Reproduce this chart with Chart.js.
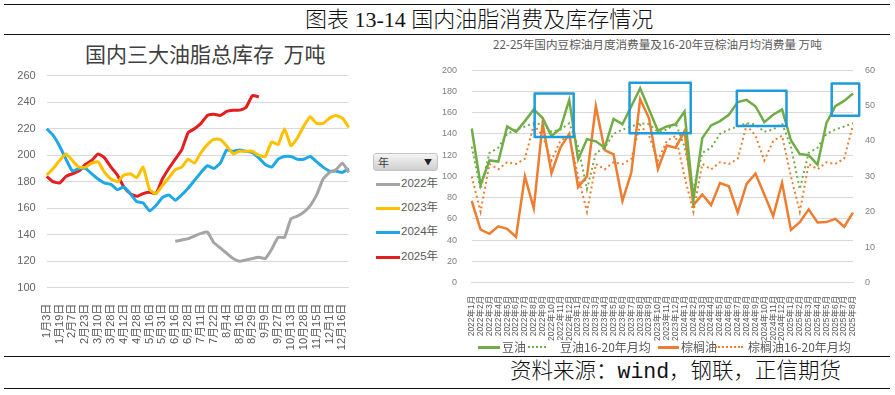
<!DOCTYPE html>
<html><head><meta charset="utf-8">
<script src="https://cdn.jsdelivr.net/npm/chart.js@4.4.1/dist/chart.umd.min.js"></script>
<style>
html,body{margin:0;padding:0;}
body{width:895px;height:395px;background:#fff;position:relative;overflow:hidden;font-family:"Noto Sans CJK SC",sans-serif;}
.hl{position:absolute;left:4px;width:886px;height:0;border-top:1.5px solid #111;}
.abs{position:absolute;white-space:pre;}
#cL{position:absolute;left:0;top:50px;}
#cR{position:absolute;left:440px;top:50px;}
.lg{position:absolute;height:0;}
.lt{position:absolute;font-size:12px;color:#595959;line-height:14px;white-space:pre;}
</style></head>
<body>
<div class="hl" style="top:4px"></div>
<div class="abs" style="left:305px;top:6px;font-size:22px;line-height:28px;color:#111;font-weight:300;font-family:'Liberation Serif','Noto Sans CJK SC',serif;">图表 13-14 国内油脂消费及库存情况</div>
<div class="hl" style="top:34px"></div>

<div class="abs" style="left:85px;top:39px;font-size:21px;line-height:28px;color:#404040;">国内三大油脂总库存  万吨</div>
<div class="abs" style="left:493px;top:36px;font-size:11.6px;line-height:16px;color:#595959;">22-25年国内豆棕油月度消费量及16-20年豆棕油月均消费量 万吨</div>

<canvas id="cL" width="370" height="305"></canvas>
<canvas id="cR" width="455" height="300"></canvas>

<!-- left legend -->
<div class="abs" style="left:373px;top:153px;width:63px;height:16px;border:1px solid #c4c4c4;border-radius:3px;background:linear-gradient(#f4f4f4,#cfcfcf);"></div>
<div class="abs" style="left:378px;top:154px;font-size:11px;line-height:16px;color:#404040;">年</div>
<div class="abs" style="left:424px;top:155px;font-size:8px;line-height:14px;color:#222;">▼</div>
<div id="legL"></div>

<!-- right legend -->
<div class="lg" style="left:478px;top:346px;width:22px;border-top:3px solid #70AD47;"></div>
<div class="lt" style="left:502px;top:340px;">豆油</div>
<div class="lg" style="left:528px;top:346px;width:18px;border-top:2px dotted #70AD47;"></div>
<div class="lt" style="left:560px;top:340px;">豆油16-20年月均</div>
<div class="lg" style="left:658px;top:346px;width:21px;border-top:3px solid #ED7D31;"></div>
<div class="lt" style="left:681px;top:340px;">棕榈油</div>
<div class="lg" style="left:715px;top:346px;width:28px;border-top:2px dotted #ED7D31;"></div>
<div class="lt" style="left:748px;top:340px;">棕榈油16-20年月均</div>

<div class="hl" style="top:356px"></div>
<div class="abs" style="left:510px;top:359px;font-size:21.5px;line-height:26px;color:#111;font-weight:300;font-family:'Liberation Mono','Noto Sans CJK SC',monospace;">资料来源：wind，钢联，正信期货</div>
<div class="hl" style="top:388px"></div>

<script>
// ---------- left chart data (万吨) ----------
const weekTickLabels = ['1月3日','1月19日','2月7日','2月23日','3月10日','3月28日','4月12日','4月28日','5月16日','5月31日','6月16日','6月28日','7月11日','7月22日','8月4日','8月16日','8月29日','9月9日','9月27日','10月13日','10月28日','11月15日','12月1日','12月16日'];
const stockYears = ['2022年','2023年','2024年','2025年'];
const stock2022 = [null,null,null,null,null,null,null,null,null,null,null,null,null,null,null,null,null,null,null,null,
  135,136,137,139,141,142,134,130,126,122,120,121,122,123,122,129,138,138,152,154,157,162,170,182,187,189,194,187];
const stock2023 = [185,190,196,201,196,191,191,194,195,187,182,180,185,186,183,191,174,171,177,183,189,191,197,194,202,208,212,212,207,201,203,203,203,200,199,210,208,220,207,213,222,229,224,224,228,230,228,221];
const stock2024 = [220,215,207,197,188,190,190,186,182,179,178,174,176,171,165,164,158,162,168,170,166,170,175,181,187,192,190,194,204,203,204,203,202,198,193,191,197,199,199,197,197,199,195,191,188,188,187,190];
const stock2025 = [184,180,179,184,186,188,193,196,201,198,191,185,176,171,169,171,172,171,182,190,197,204,217,220,224,230,231,230,233,234,234,236,245,244];
const stockTicks = [100,120,140,160,180,200,220,240,260];

// ---------- right chart data ----------
const months = ['2022年1月','2022年2月','2022年3月','2022年4月','2022年5月','2022年6月','2022年7月','2022年8月','2022年9月','2022年10月','2022年11月','2022年12月',
 '2023年1月','2023年2月','2023年3月','2023年4月','2023年5月','2023年6月','2023年7月','2023年8月','2023年9月','2023年10月','2023年11月','2023年12月',
 '2024年1月','2024年2月','2024年3月','2024年4月','2024年5月','2024年6月','2024年7月','2024年8月','2024年9月','2024年10月','2024年11月','2024年12月',
 '2025年1月','2025年2月','2025年3月','2025年4月','2025年5月','2025年6月','2025年7月','2025年8月'];
const soyCons = [145,92,115,114,147,142,152,163,155,138,145,172, 116,135,133,127,154,149,166,183,163,143,147,149, 161,78,136,148,152,158,170,172,166,151,158,163, 134,121,120,111,150,166,171,178];
const soyAvg  = [128,88,122,127,140,144,147,150,149,142,144,150, 128,88,122,127,140,144,147,150,149,142,144,150, 128,88,122,127,140,144,147,150,149,142,144,150, 128,88,122,127,140,144,147,150];
const palmCons = [23.1,15,13.8,15.9,15.2,12.9,30,21,45,30.9,38.1,42, 27,30,49.8,37.4,36.2,23.1,31.1,51.8,46.4,32.1,38.7,38.1, 42.8,21.9,24.9,21.9,28.1,27.2,19.8,27.9,30.8,24.9,18.8,28.2, 14.9,17.1,20.7,17,17.1,18,15.8,19.8];
const palmAvg  = [30,20,33.5,32,34,33.5,35,44.5,41.5,34.5,40,41.5, 30,20,33.5,32,34,33.5,35,44.5,41.5,34.5,40,41.5, 30,20,33.5,32,34,33.5,35,44.5,41.5,34.5,40,41.5, 30,20,33.5,32,34,33.5,35,44.5];
const leftTicks = [0,20,40,60,80,100,120,140,160,180,200];
const rightTicks = [0,10,20,30,40,50,60];
// highlight boxes in data units: [fromIndex, toIndex, topValue, bottomValue] (left axis)
const highlightBoxes = [[7.1,11.5,178,137],[17.8,24.7,188,140.6],[29.9,35.5,180.5,147.5],[40.6,43.7,187.5,157]];

const weekCats = weekTickLabels.flatMap(l => [l, '']);
const CJK = '"Noto Sans CJK SC"';
const NARROW = '"Liberation Sans Narrow","Liberation Sans",' + CJK;

// left legend
const yearColors = ['#A5A5A5','#FFC000','#1FA8E6','#E41E1E'];
const legTops = [184,208,232,257];
const legL = document.getElementById('legL');
stockYears.forEach((y,i)=>{
  legL.insertAdjacentHTML('beforeend',
    `<div class="lg" style="left:376px;top:${legTops[i]-1.5}px;width:24px;border-top:3px solid ${yearColors[i]};"></div>`+
    `<div class="lt" style="left:401px;top:${legTops[i]-8}px;font-size:11.5px;font-family:${NARROW.replace(/"/g,"'")};">${y}</div>`);
});

new Chart(document.getElementById('cL'), {
  type: 'line',
  data: {
    labels: weekCats,
    datasets: [stock2022, stock2023, stock2024, stock2025].map((d,i)=>({
      label: stockYears[i], data: d, borderColor: yearColors[i], backgroundColor: yearColors[i],
      borderWidth: 3, pointRadius: 0, tension: 0.15, spanGaps: false, borderJoinStyle: 'round'
    }))
  },
  options: {
    responsive: false, animation: false, devicePixelRatio: 1,
    layout: { padding: { top: 25.7, right: 15.4, left: 0, bottom: 0 } },
    plugins: { legend: { display: false }, tooltip: { enabled: false } },
    scales: {
      x: {
        grid: { display: false }, border: { display: false },
        ticks: { autoSkip: false, maxRotation: 90, minRotation: 90, padding: 8, color: '#595959',
          font: { family: NARROW, size: 11 } },
        afterFit: s => { s.height = 67.3; }
      },
      y: {
        min: 100, max: 260,
        afterBuildTicks: s => { s.ticks = stockTicks.map(v => ({ value: v })); },
        grid: { color: '#D9D9D9', lineWidth: 1, drawTicks: false }, border: { display: false },
        ticks: { padding: 11, color: '#666', font: { family: NARROW, size: 11 } },
        afterFit: s => { s.width = 46.7; }
      }
    }
  }
});

const boxPlugin = {
  id: 'boxes',
  afterDatasetsDraw(chart) {
    const { ctx, scales: { x, y } } = chart;
    ctx.save();
    ctx.strokeStyle = '#1E9BDA'; ctx.lineWidth = 2.5; ctx.lineJoin = 'round';
    highlightBoxes.forEach(b => {
      const x0 = x.getPixelForValue(b[0]), x1 = x.getPixelForValue(b[1]);
      const y0 = y.getPixelForValue(b[2]), y1 = y.getPixelForValue(b[3]);
      ctx.strokeRect(x0, y0, x1 - x0, y1 - y0);
    });
    ctx.restore();
  }
};

new Chart(document.getElementById('cR'), {
  type: 'line',
  data: {
    labels: months,
    datasets: [
      { label: '豆油', data: soyCons, yAxisID: 'y', borderColor: '#70AD47', borderWidth: 2.5, pointRadius: 0, tension: 0 },
      { label: '豆油16-20年月均', data: soyAvg, yAxisID: 'y', borderColor: '#70AD47', borderWidth: 2, borderDash: [2, 3], pointRadius: 0, tension: 0 },
      { label: '棕榈油', data: palmCons, yAxisID: 'y1', borderColor: '#ED7D31', borderWidth: 2.5, pointRadius: 0, tension: 0 },
      { label: '棕榈油16-20年月均', data: palmAvg, yAxisID: 'y1', borderColor: '#ED7D31', borderWidth: 2, borderDash: [2, 3], pointRadius: 0, tension: 0 }
    ]
  },
  options: {
    responsive: false, animation: false, devicePixelRatio: 1,
    layout: { padding: { top: 11.7, right: 0, left: 0, bottom: 0 } },
    plugins: { legend: { display: false }, tooltip: { enabled: false } },
    scales: {
      x: {
        grid: { display: false }, border: { display: true, color: '#D9D9D9' },
        ticks: { autoSkip: false, maxRotation: 90, minRotation: 90, padding: 5, color: '#595959',
          font: { family: NARROW, size: 8.5 } },
        afterFit: s => { s.height = 67.3; }
      },
      y: {
        position: 'left', min: 0, max: 200,
        afterBuildTicks: s => { s.ticks = leftTicks.map(v => ({ value: v })); },
        grid: { color: '#D9D9D9', drawTicks: false }, border: { display: false },
        ticks: { padding: 14.7, color: '#7F7F7F', font: { family: NARROW, size: 9 } },
        afterFit: s => { s.width = 31.7; }
      },
      y1: {
        position: 'right', min: 0, max: 60,
        afterBuildTicks: s => { s.ticks = rightTicks.map(v => ({ value: v })); },
        grid: { display: false, drawTicks: false }, border: { display: false },
        ticks: { padding: 12, color: '#7F7F7F', font: { family: NARROW, size: 9 } },
        afterFit: s => { s.width = 42; }
      }
    }
  },
  plugins: [boxPlugin]
});
</script>
</body></html>
